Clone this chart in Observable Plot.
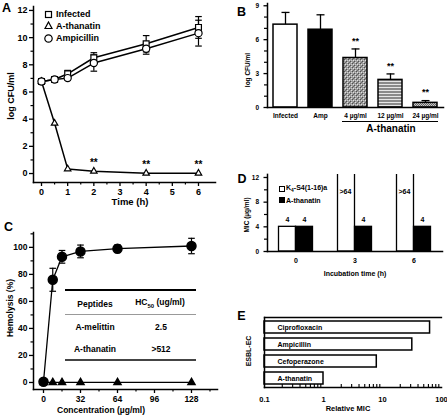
<!DOCTYPE html>
<html><head><meta charset="utf-8">
<script src="https://cdn.jsdelivr.net/npm/d3@7"></script>
<script src="https://cdn.jsdelivr.net/npm/@observablehq/plot@0.6"></script>
<style>
body{margin:0;background:#fff;}
#fig{position:relative;width:447px;height:417px;overflow:hidden;font-family:"Liberation Sans",Arial,Helvetica,sans-serif;font-weight:bold;color:#000;background:#fff}
.abs{position:absolute;white-space:nowrap;line-height:1}
</style></head><body><div id="fig"></div><script>
// ---------- Panel A data ----------
const aTimes = [0, 0.5, 1, 2, 4, 6];
const aInfected = [6.77, 6.92, 7.34, 8.52, 9.55, 10.75];
const aInfectedErr = [0.08, 0.1, 0.25, 0.37, 0.6, 0.8];
const aAthanatin = [6.77, 3.7, 0.34, 0.17, 0.02, 0.02];
const aAmpicillin = [6.77, 6.92, 7.02, 8.13, 9.18, 10.33];
const aAmpicillinErr = [0.08, 0.1, 0.15, 0.6, 0.4, 0.95];
const aStarTimes = [2, 4, 6];
const aXTicks = [0, 1, 2, 3, 4, 5, 6];
const aXMinor = [0.5, 1.5, 2.5, 3.5, 4.5, 5.5];
const aYTicks = [0, 2, 4, 6, 8, 10, 12];
const aYMinor = [1, 3, 5, 7, 9, 11];
// ---------- Panel B data ----------
const bCats = ["Infected", "Amp", "4 µg/ml", "12 µg/ml", "24 µg/ml"];
const bVals = [7.33, 6.88, 4.38, 2.44, 0.41];
const bErr = [1.08, 1.32, 0.8, 0.53, 0.2];
const bStarCats = ["4 µg/ml", "12 µg/ml", "24 µg/ml"];
const bYTicks = [0, 3, 6, 9];
const bYMinor = [1, 2, 4, 5, 7, 8];
// ---------- Panel C data ----------
const cConc = [0, 8, 16, 32, 64, 128];
const cMelittin = [0.5, 76, 93, 97, 99, 101];
const cMelittinErr = [0, 8.5, 4.7, 4.7, 2.8, 5.7];
const cThanatin = [0, 0, 0, 0, 0, 0];
const cXTicks = [0, 32, 64, 96, 128];
const cXMinor = [16, 48, 80, 112, 144];
const cYTicks = [0, 20, 40, 60, 80, 100];
const cYMinor = [10, 30, 50, 70, 90, 110];
const cTableHead = ["Peptides", "HC<sub style='font-size:0.7em'>50</sub> (ug/ml)"];
const cTablePeptides = ["A-melittin", "A-thanatin"];
const cTableHC50 = ["2.5", ">512"];
// ---------- Panel D data ----------
const dTimes = ["0", "3", "6"];
const dK4 = [4, 64, 64];
const dK4Text = ["4", ">64", ">64"];
const dAth = [4, 4, 4];
const dAthText = ["4", "4", "4"];
const dYTicks = [0, 4, 8, 12];
const dYMinor = [2, 6, 10];
// ---------- Panel E data ----------
const eDrugs = ["Ciprofloxacin", "Ampicillin", "Cefoperazone", "A-thanatin"];
const eRelMIC = [64, 32, 8, 1];
const eTicks = [0.1, 1, 10, 100];
const eMinor = [0.2,0.3,0.4,0.5,0.6,0.7,0.8,0.9,2,3,4,5,6,7,8,9,20,30,40,50,60,70,80,90];

// ---------- helpers ----------
const FONT = '"Liberation Sans", Arial, Helvetica, sans-serif';
const fig = document.getElementById("fig");
function put(node, left, top){ node.style.position="absolute"; node.style.left=left+"px"; node.style.top=top+"px"; fig.appendChild(node); return node; }
function label(html, x, y, size, rotate=false, anchor="middle"){
  const d=document.createElement("div"); d.className="abs"; d.innerHTML=html; d.style.fontSize=size+"px";
  d.style.transform=(anchor==="start"?"translate(0,-50%)":"translate(-50%,-50%)")+(rotate?" rotate(-90deg)":"");
  return put(d,x,y);
}
function hline(x1, x2, y, w, color){
  const d=document.createElement("div"); d.style.width=(x2-x1)+"px"; d.style.height="0px";
  d.style.borderTop=w+"px solid "+color; return put(d,x1,y-w/2);
}
const style = (fs)=>({fontFamily: FONT, fontWeight: "bold", fontSize: fs+"px", background: "none", overflow: "visible", color: "black"});
const capSym = {draw(ctx, size){ const w=Math.sqrt(size/Math.PI); ctx.moveTo(-w,0); ctx.lineTo(w,0); }};
const blank = () => "";
const plain = d => String(d);

// ---------- Panel A ----------
{
  const series = [
    {name:"Infected", vals:aInfected, errs:aInfectedErr},
    {name:"A-thanatin", vals:aAthanatin, errs:null},
    {name:"Ampicillin", vals:aAmpicillin, errs:aAmpicillinErr}
  ];
  const sym = {"Infected":["square",3.3], "A-thanatin":["triangle",2.4], "Ampicillin":["circle",3.6]};
  const rows = series.flatMap(s => aTimes.map((t,i)=>({series:s.name, t, v:s.vals[i], e:s.errs?s.errs[i]:0})));
  const errRows = rows.filter(d=>d.e>0.12);
  const svg = Plot.plot({
    width:222, height:212, marginLeft:33, marginRight:7, marginTop:6, marginBottom:30,
    x:{domain:[-0.306, 6.65]}, y:{domain:[-0.66, 12.29]},
    style: style(9),
    marks:[
      Plot.frame({anchor:"left", strokeWidth:1.5}),
      Plot.frame({anchor:"bottom", strokeWidth:1.5}),
      Plot.axisY({ticks:aYTicks, tickSize:4, tickPadding:2, tickFormat:plain, fontSize:9, label:null, strokeWidth:1.3}),
      Plot.axisY({ticks:aYMinor, tickSize:2.5, tickFormat:blank, label:null, strokeWidth:1.2}),
      Plot.axisX({ticks:aXTicks, tickSize:4, tickPadding:2, tickFormat:plain, fontSize:9, label:null, strokeWidth:1.3}),
      Plot.axisX({ticks:aXMinor, tickSize:2.5, tickFormat:blank, label:null, strokeWidth:1.2}),
      Plot.ruleX(errRows, {x:"t", y1:d=>d.v-d.e, y2:d=>d.v+d.e, strokeWidth:1.2}),
      Plot.dot(errRows, {x:"t", y:d=>d.v+d.e, symbol:capSym, r:3.3, fill:"none", stroke:"black", strokeWidth:1.2}),
      Plot.dot(errRows, {x:"t", y:d=>d.v-d.e, symbol:capSym, r:3.3, fill:"none", stroke:"black", strokeWidth:1.2}),
      Plot.line(rows, {x:"t", y:"v", z:"series", stroke:"black", strokeWidth:1.5}),
      ...series.map(s => Plot.dot(rows.filter(d=>d.series===s.name), {x:"t", y:"v", symbol:sym[s.name][0], r:sym[s.name][1], fill:"white", stroke:"black", strokeWidth:1.2})),
      Plot.text(aStarTimes, {x:d=>d, y:d=>aAthanatin[aTimes.indexOf(d)], text:()=>"**", dy:-8, fontSize:10, fill:"black"})
    ]
  });
  put(svg, 0, 0);
  label("A", 6.5, 8, 12.5);
  label("log CFU/ml", 11, 96, 9, true);
  label("Time (h)", 130, 202, 9.5);
  // legend
  const leg = [["Infected", `<rect x="1.5" y="1.5" width="6" height="6" fill="white" stroke="black" stroke-width="1.2"/>`, 14],
               ["A-thanatin", `<path d="M4.5,1 L8,7.5 L1,7.5 Z" fill="white" stroke="black" stroke-width="1.2"/>`, 25.5],
               ["Ampicillin", `<circle cx="4.5" cy="4.5" r="3.7" fill="white" stroke="black" stroke-width="1.2"/>`, 38]];
  leg.forEach(([name, shape, y])=>{
    const s=document.createElementNS("http://www.w3.org/2000/svg","svg"); s.setAttribute("width",9); s.setAttribute("height",9);
    s.innerHTML=shape; put(s, 43.5, y-4.5);
    label(name, 56, y, 9, false, "start");
  });
}

// ---------- Panel B ----------
{
  const bFills = ["white", "black", "url(#patB4)", "url(#patB12)", "url(#patB24)"];
  const rows = bCats.map((c,i)=>({c, v:bVals[i], e:bErr[i]}));
  const svg = Plot.plot({
    width:222, height:140, marginLeft:42, marginRight:4, marginTop:3, marginBottom:33,
    x:{domain:bCats, paddingInner:0.32, paddingOuter:0.16},
    y:{domain:[0, 9.2]},
    color:{type:"ordinal", domain:bCats, range:bFills},
    style: style(7),
    marks:[
      Plot.ruleX(rows, {x:"c", y1:"v", y2:d=>d.v+d.e, strokeWidth:1.3}),
      Plot.dot(rows, {x:"c", y:d=>d.v+d.e, symbol:capSym, r:4, fill:"none", stroke:"black", strokeWidth:1.3}),
      Plot.barY(rows, {x:"c", y:"v", fill:"c", stroke:"black", strokeWidth:1.5}),
      Plot.text(rows.filter(d=>bStarCats.includes(d.c)), {x:"c", y:d=>d.v+d.e, text:()=>"**", dy:-8, fontSize:9, fill:"black"}),
      Plot.frame({anchor:"left", strokeWidth:1.5}),
      Plot.frame({anchor:"bottom", strokeWidth:1.5}),
      Plot.axisY({ticks:bYTicks, tickSize:3.5, tickPadding:5, tickFormat:plain, fontSize:6.5, label:null, strokeWidth:1.3}),
      Plot.axisY({ticks:bYMinor, tickSize:3, tickFormat:blank, label:null, strokeWidth:1.2}),
      Plot.axisX({tickSize:0, tickPadding:6, fontSize:6.5, label:null})
    ]
  });
  const defs = document.createElementNS("http://www.w3.org/2000/svg","defs");
  defs.innerHTML = `
   <pattern id="patB4" width="4" height="4" patternUnits="userSpaceOnUse">
     <rect width="4" height="4" fill="#9a9a9a"/>
     <rect x="0" y="0" width="1" height="1" fill="#e0e0e0"/><rect x="2" y="2" width="1" height="1" fill="#e0e0e0"/>
     <rect x="1" y="1" width="1" height="1" fill="#505050"/><rect x="3" y="3" width="1" height="1" fill="#505050"/>
     <rect x="2" y="0" width="1" height="1" fill="#c8c8c8"/><rect x="0" y="2" width="1" height="1" fill="#707070"/>
   </pattern>
   <pattern id="patB12" width="3" height="3" patternUnits="userSpaceOnUse">
     <rect width="3" height="3" fill="#8a8a8a"/><rect width="3" height="1" fill="#e6e6e6"/>
   </pattern>
   <pattern id="patB24" width="2" height="2" patternUnits="userSpaceOnUse">
     <rect width="2" height="2" fill="#c8c8c8"/><rect width="1" height="1" fill="#666"/><rect x="1" y="1" width="1" height="1" fill="#666"/>
   </pattern>`;
  svg.insertBefore(defs, svg.firstChild);
  put(svg, 225, 0);
  label("B", 241.5, 12, 12.5);
  label("log CFU/ml", 247.5, 70, 6.5, true);
  hline(342, 438, 122, 1.2, "#000");
  label("A-thanatin", 391, 128.5, 10);
}

// ---------- Panel C ----------
{
  const rowsM = cConc.map((c,i)=>({c, v:cMelittin[i], e:cMelittinErr[i]}));
  const rowsT = cConc.map((c,i)=>({c, v:cThanatin[i]}));
  const errRows = rowsM.filter(d=>d.e>0);
  const svg = Plot.plot({
    width:222, height:205, marginLeft:33, marginRight:5, marginTop:20, marginBottom:28,
    x:{domain:[-8.65, 150.5]}, y:{domain:[-5.2, 111]},
    style: style(8.5),
    marks:[
      Plot.frame({anchor:"left", strokeWidth:1.5}),
      Plot.frame({anchor:"bottom", strokeWidth:1.5}),
      Plot.axisY({ticks:cYTicks, tickSize:4, tickPadding:2, tickFormat:plain, fontSize:8.5, label:null, strokeWidth:1.3}),
      Plot.axisY({ticks:cYMinor, tickSize:2.5, tickFormat:blank, label:null, strokeWidth:1.2}),
      Plot.axisX({ticks:cXTicks, tickSize:4, tickPadding:2, tickFormat:plain, fontSize:8.5, label:null, strokeWidth:1.3}),
      Plot.axisX({ticks:cXMinor, tickSize:2.5, tickFormat:blank, label:null, strokeWidth:1.2}),
      Plot.ruleX(errRows, {x:"c", y1:d=>d.v-d.e, y2:d=>d.v+d.e, strokeWidth:1.2}),
      Plot.dot(errRows, {x:"c", y:d=>d.v+d.e, symbol:capSym, r:3.3, fill:"none", stroke:"black", strokeWidth:1.2}),
      Plot.dot(errRows, {x:"c", y:d=>d.v-d.e, symbol:capSym, r:3.3, fill:"none", stroke:"black", strokeWidth:1.2}),
      Plot.line(rowsT, {x:"c", y:"v", stroke:"black", strokeWidth:1.3}),
      Plot.line(rowsM, {x:"c", y:"v", stroke:"black", strokeWidth:1.3}),
      Plot.dot(rowsT, {x:"c", y:"v", symbol:"triangle", r:2.6, fill:"black", stroke:"black"}),
      Plot.dot(rowsM, {x:"c", y:"v", symbol:"circle", r:4.5, fill:"black", stroke:"black"})
    ]
  });
  put(svg, 0, 212);
  label("C", 8.5, 227, 12.5);
  label("Hemolysis (%)", 10, 308, 8.5, true);
  label("Concentration (µg/ml)", 101, 410, 8.5);
  // inset table
  hline(65, 196, 290, 2, "#000");
  label(cTableHead[0], 95, 304, 8.5);
  label(cTableHead[1], 160, 304, 8.5);
  hline(65, 196, 314, 1, "#999");
  cTablePeptides.forEach((p,i)=>{ label(p, 95, 327 + i*22, 8.5); label(cTableHC50[i], 161, 327 + i*22, 8.5); });
  hline(65, 196, 360, 2, "#444");
}

// ---------- Panel D ----------
{
  const rows = dTimes.map((t,i)=>({t, k4:dK4[i], k4Text:dK4Text[i], ath:dAth[i], athText:dAthText[i]}));
  const yMax = 12.5;
  const svg = Plot.plot({
    width:222, height:112, marginLeft:42, marginRight:5, marginTop:3.9, marginBottom:31,
    x:{domain:dTimes, range:[40.5, 217.5], padding:0},
    y:{domain:[0, yMax]},
    style: style(7),
    marks:[
      Plot.barY(rows, {x:"t", y:"k4", fill:"white", stroke:"black", strokeWidth:1.3, insetLeft:12.5, insetRight:29.5, clip:true}),
      Plot.barY(rows, {x:"t", y:"ath", fill:"black", stroke:"black", strokeWidth:1.3, insetLeft:29.5, insetRight:12.5}),
      Plot.text(rows.filter(d=>d.k4<=yMax), {x:"t", y:"k4", text:"k4Text", dx:-8.5, dy:-7, fontSize:7, fill:"black"}),
      Plot.text(rows.filter(d=>d.k4>yMax), {x:"t", frameAnchor:"top", text:"k4Text", dx:-15.5, dy:15, textAnchor:"start", fontSize:7, fill:"black"}),
      Plot.text(rows, {x:"t", y:"ath", text:"athText", dx:8.5, dy:-7, fontSize:7, fill:"black"}),
      Plot.frame({anchor:"left", strokeWidth:1.5}),
      Plot.frame({anchor:"bottom", strokeWidth:1.5}),
      Plot.axisY({ticks:dYTicks, tickSize:3.5, tickPadding:5, tickFormat:plain, fontSize:6.5, label:null, strokeWidth:1.3}),
      Plot.axisY({ticks:dYMinor, tickSize:3, tickFormat:blank, label:null, strokeWidth:1.2}),
      Plot.axisX({tickSize:0, tickPadding:7, fontSize:7, label:null})
    ]
  });
  put(svg, 225, 170);
  label("D", 242, 179, 12.5);
  label("MIC (µg/ml)", 247, 215, 6.5, true);
  label("Incubation time (h)", 355, 273, 7);
  const sq = (fill, y)=>{ const d=document.createElement("div"); d.style.width="6px"; d.style.height="6px"; d.style.boxSizing="border-box"; d.style.border="1.2px solid #000"; d.style.background=fill; put(d, 278.5, y-3); };
  sq("white", 189); sq("black", 199.5);
  label("K<sub style='font-size:0.7em'>4</sub>-S4(1-16)a", 286, 189, 7, false, "start");
  label("A-thanatin", 286, 199.5, 7, false, "start");
}

// ---------- Panel E ----------
{
  const eDomain = [0.1, 100];
  const rows = eDrugs.map((n,i)=>({n, v:eRelMIC[i]}));
  const svg = Plot.plot({
    width:222, height:102, marginLeft:39, marginRight:6, marginTop:2, marginBottom:30,
    x:{type:"log", domain:eDomain},
    y:{domain:eDrugs, range:[5, 71], paddingInner:0.29, paddingOuter:0},
    style: style(7),
    marks:[
      Plot.barX(rows, {y:"n", x1:eDomain[0], x2:"v", fill:"white", stroke:"black", strokeWidth:1.5}),
      Plot.text(rows, {y:"n", x:eDomain[0], text:"n", dx:13, textAnchor:"start", fontSize:7, fill:"black"}),
      Plot.ruleX(eMinor, {x:d=>d, insetTop:67, strokeWidth:1.1}),
      Plot.frame({anchor:"left", strokeWidth:1.5}),
      Plot.frame({anchor:"bottom", strokeWidth:1.5}),
      Plot.frame({anchor:"top", strokeWidth:1.3}),
      Plot.axisY({tickSize:0, tickFormat:blank, label:null}),
      Plot.axisX({ticks:eTicks, tickSize:0, tickPadding:9, tickFormat:plain, fontSize:7.5, label:null})
    ]
  });
  put(svg, 225, 315);
  label("E", 241.5, 316, 12.5);
  label("ESBL-EC", 248, 351, 7, true);
  label("Relative MIC", 348, 409, 7.5);
}
</script></body></html>
